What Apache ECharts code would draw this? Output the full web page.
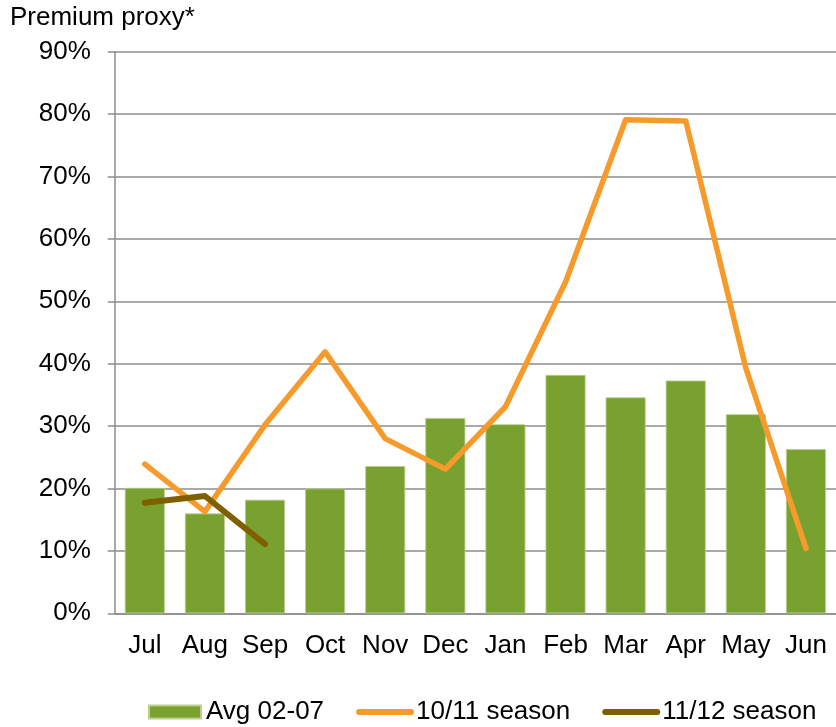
<!DOCTYPE html>
<html><head><meta charset="utf-8">
<script src="https://cdn.jsdelivr.net/npm/echarts@6/dist/echarts.min.js"></script>
<style>html,body{margin:0;padding:0;background:#fff}#c{width:836px;height:727px}</style>
</head><body><div id="c"></div>
<script>
const months = ['Jul','Aug','Sep','Oct','Nov','Dec','Jan','Feb','Mar','Apr','May','Jun'];
const avg0207 = [20.1, 16.0, 18.2, 20.0, 23.6, 31.3, 30.3, 38.2, 34.6, 37.3, 31.9, 26.3];
const season1011 = [23.9, 16.3, 30.2, 41.9, 28.0, 23.1, 33.1, 53.1, 79.1, 78.9, 39.3, 10.4];
const season1112 = [17.7, 18.8, 11.1, null, null, null, null, null, null, null, null, null];
const yTicks = {min: 0, max: 90, interval: 10};

const font = 'Liberation Sans, Arial, sans-serif';
const fs = 26;
const chart = echarts.init(document.getElementById('c'), null, {renderer: 'canvas'});
chart.setOption({
  animation: false,
  backgroundColor: '#ffffff',
  title: {
    text: 'Premium proxy*', left: 10, top: 5, padding: 0,
    textStyle: {fontFamily: font, fontSize: fs, fontWeight: 'normal', color: '#000', lineHeight: fs}
  },
  grid: {left: 114.75, right: -5, top: 51.7, bottom: 113.7, containLabel: false},
  legend: {
    bottom: 2, left: 148, padding: 0,
    itemWidth: 52, itemHeight: 13, itemGap: 32,
    textStyle: {fontFamily: font, fontSize: fs, color: '#000', lineHeight: fs},
    data: [
      {name: 'Avg 02-07', icon: 'rect'},
      {name: '10/11 season', itemStyle: {color: 'transparent', borderWidth: 0, opacity: 0},
       lineStyle: {color: '#f79a2c', width: 6, cap: 'round'}},
      {name: '11/12 season', itemStyle: {color: 'transparent', borderWidth: 0, opacity: 0},
       lineStyle: {color: '#7f6000', width: 6, cap: 'round'}}
    ]
  },
  xAxis: {
    type: 'category', data: months, boundaryGap: true,
    axisLine: {show: true, lineStyle: {color: '#8c8c8c', width: 1.5}},
    axisTick: {show: false},
    axisLabel: {fontFamily: font, fontSize: fs, color: '#000', margin: 20, lineHeight: fs,
                interval: 0, hideOverlap: false}
  },
  yAxis: {
    type: 'value', min: yTicks.min, max: yTicks.max, interval: yTicks.interval,
    axisLine: {show: true, lineStyle: {color: '#8c8c8c', width: 1.5}},
    axisTick: {show: true, length: 7, lineStyle: {color: '#8c8c8c', width: 1.5}},
    splitLine: {show: true, lineStyle: {color: '#8c8c8c', width: 1.5}},
    axisLabel: {fontFamily: font, fontSize: fs, color: '#000', margin: 24, formatter: '{value}%'}
  },
  series: [
    {
      name: 'Avg 02-07', type: 'bar', data: avg0207, barWidth: 40,
      itemStyle: {color: '#79a130', borderColor: '#b9d08c', borderWidth: 0.8}
    },
    {
      name: '10/11 season', type: 'line', data: season1011, symbol: 'none',
      lineStyle: {color: '#f79a2c', width: 5.5, cap: 'round', join: 'round'},
      itemStyle: {color: '#f79a2c'}
    },
    {
      name: '11/12 season', type: 'line', data: season1112, symbol: 'none',
      lineStyle: {color: '#7f6000', width: 6, cap: 'round', join: 'round'},
      itemStyle: {color: '#7f6000'}
    }
  ]
});
</script></body></html>
